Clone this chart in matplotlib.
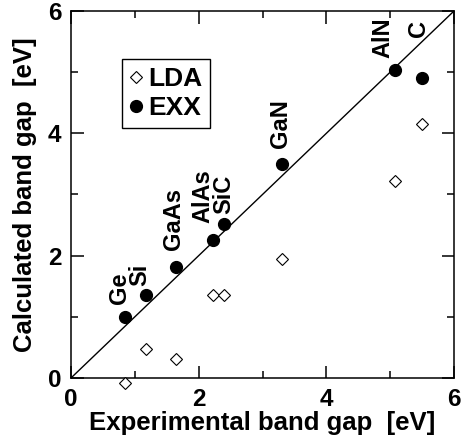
import matplotlib
matplotlib.use("Agg")
import matplotlib.pyplot as plt

plt.rcParams['font.family'] = ['Liberation Sans', 'DejaVu Sans']
plt.rcParams['font.weight'] = 'bold'

# data
materials = ["Ge", "Si", "GaAs", "AlAs", "SiC", "GaN", "AlN", "C"]
exp_gap = [0.84, 1.17, 1.64, 2.23, 2.40, 3.31, 5.07, 5.50]
lda_gap = [-0.08, 0.47, 0.31, 1.36, 1.35, 1.95, 3.22, 4.16]
exx_gap = [0.99, 1.35, 1.81, 2.25, 2.52, 3.50, 5.03, 4.90]

# label offsets in pixels (dx, dy) from the EXX point
label_off = {"Ge": (-5, 13), "Si": (-6, 9), "GaAs": (-2, 17), "AlAs": (-10, 17),
             "SiC": (0, 10), "GaN": (-2, 16), "AlN": (-12, 12), "C": (-4, 41)}

fig = plt.figure(figsize=(4.62, 4.47), dpi=100)
ax = fig.add_axes([0.1537, 0.1544, 0.9827 - 0.1537, 0.9754 - 0.1544])

ax.plot([0, 6], [0, 6], color="black", lw=1.0, zorder=1)
ax.plot(exp_gap, lda_gap, ls="none", marker="D", ms=6.0, mfc="white",
        mec="black", mew=0.8, label="LDA", zorder=3, clip_on=False)
ax.plot(exp_gap, exx_gap, ls="none", marker="o", ms=8.5, mfc="black",
        mec="black", label="EXX", zorder=3, clip_on=False)

for name, x, y in zip(materials, exp_gap, exx_gap):
    dx, dy = label_off[name]
    ax.annotate(name, (x, y), xytext=(dx * 0.72, dy * 0.72),
                textcoords="offset points", rotation=90, ha="center",
                va="bottom", fontsize=17, fontweight="bold")

ax.set_xlim(0, 6)
ax.set_ylim(0, 6)
ax.set_xticks([0, 2, 4, 6])
ax.set_yticks([0, 2, 4, 6])
ax.set_xticks([1, 3, 5], minor=True)
ax.set_yticks([1, 3, 5], minor=True)
ax.tick_params(which="both", direction="in", top=True, right=True,
               width=1.1, labelsize=17.5)
ax.tick_params(which="major", length=9, pad=7)
ax.tick_params(which="minor", length=5)
for sp in ax.spines.values():
    sp.set_linewidth(1.1)

ax.set_xlabel("Experimental band gap  [eV]", fontsize=18.5, fontweight="bold",
              labelpad=0)
ax.set_ylabel("Calculated band gap  [eV]", fontsize=18.5, fontweight="bold",
              labelpad=8)

leg = ax.legend(loc="upper left", bbox_to_anchor=(0.133, 0.869),
                borderaxespad=0, fancybox=False, edgecolor="black",
                framealpha=1, handlelength=0.45, handletextpad=0.25,
                borderpad=0.3, labelspacing=0.2,
                prop={"size": 19, "weight": "bold"})
leg.get_frame().set_linewidth(1.0)

plt.savefig("out.png", dpi=100)
